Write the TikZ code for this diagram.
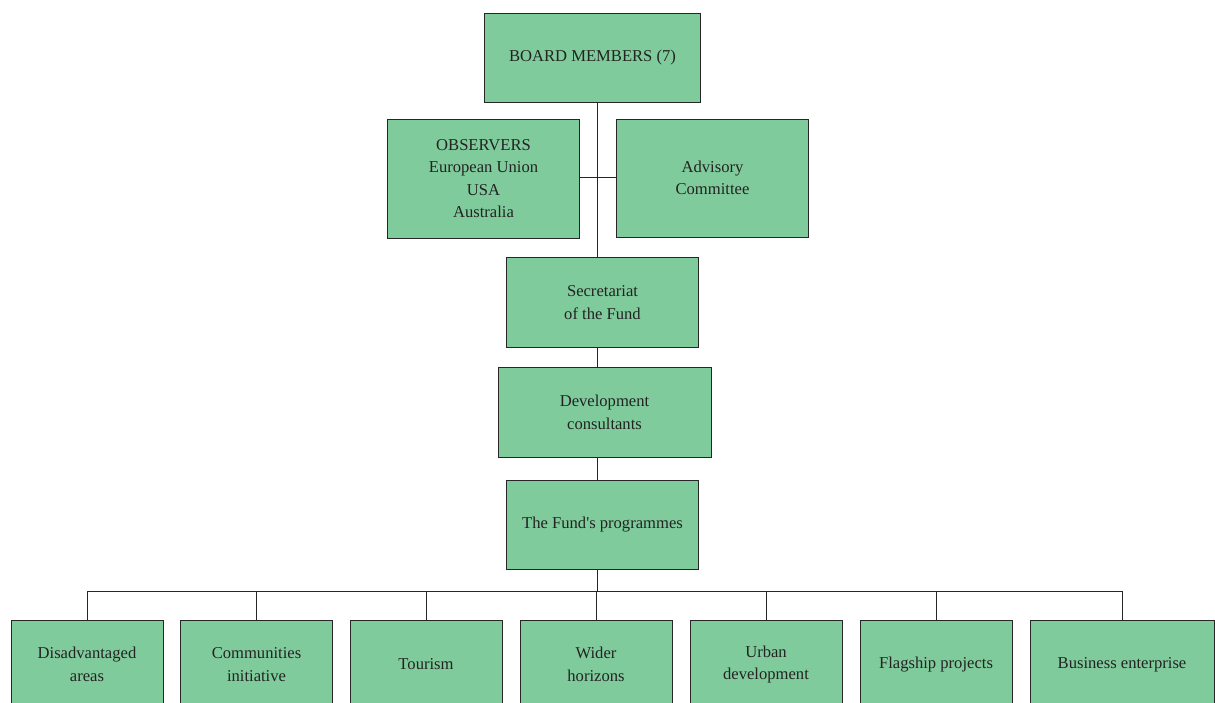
\documentclass[tikz,border=0pt]{standalone}
\usepackage{fontspec}
\setmainfont{Liberation Serif}
\usepackage{tikz}
\usetikzlibrary{positioning}
\definecolor{boxgreen}{RGB}{128,203,155}
\definecolor{txtgray}{RGB}{35,35,35}

\begin{document}
\begin{tikzpicture}[%
  x=0.5pt,
  y=-0.5pt,
  line width=0.5pt,
  box/.style={
    draw=black!85,
    fill=boxgreen,
    text=txtgray,
    align=center,
    inner sep=0pt,
    font=\fontsize{8.3}{11.3}\selectfont},
  lnk/.style={
    draw=black!85,}
  ]
  \useasboundingbox (0,0) rectangle (1215,702);
  \clip (0,0) rectangle (1215,702);
  %% Nodes
  \node[box, minimum width=108pt, minimum height=44.5pt] (BM) at (592.5,57.5) {BOARD MEMBERS (7)};
  \node[box, minimum width=96pt, minimum height=59.5pt] (OBS) at (483.5,178.5) {OBSERVERS\\European Union\\USA\\Australia};
  \node[box, minimum width=96pt, minimum height=59pt] (ADV) at (712.5,178) {Advisory\\Committee};
  \node[box, minimum width=96pt, minimum height=45pt] (SEC) at (602.5,302.5) {Secretariat\\of the Fund};
  \node[box, minimum width=106.5pt, minimum height=45pt] (DEV) at (604.5,412.5) {Development\\consultants};
  \node[box, minimum width=96pt, minimum height=44.5pt] (PROG) at (602.5,524.5) {The Fund\textquotesingle s programmes};
  \coordinate (SP) at (597,0);
  \coordinate (BUS) at (597,591);
  \node[box, minimum width=76pt, minimum height=44.5pt] (P1) at (87,664.5) {Disadvantaged\\areas};
  \node[box, minimum width=76pt, minimum height=44.5pt] (P2) at (256.5,664.5) {Communities\\initiative};
  \node[box, minimum width=76pt, minimum height=44.5pt] (P3) at (426,664.5) {Tourism};
  \node[box, minimum width=76pt, minimum height=44.5pt] (P4) at (596,664.5) {Wider\\horizons};
  \node[box, minimum width=76pt, minimum height=44.5pt] (P5) at (766,664.5) {Urban\\development};
  \node[box, minimum width=76pt, minimum height=44.5pt] (P6) at (936,664.5) {Flagship projects};
  \node[box, minimum width=92pt, minimum height=44.5pt] (P7) at (1122,664.5) {Business enterprise};
  %% Edges
  \draw[lnk] (BM.south -| SP) to (SEC.north -| SP);
  \draw[lnk] (OBS.east |- 0,177) to (ADV.west |- 0,177);
  \draw[lnk] (SEC.south -| SP) to (DEV.north -| SP);
  \draw[lnk] (DEV.south -| SP) to (PROG.north -| SP);
  \draw[lnk] (PROG.south -| SP) to (BUS);
  \draw[lnk] (BUS -| P1.north) to (BUS -| P7.north);
  \draw[lnk] (BUS -| P1.north) to (P1.north);
  \draw[lnk] (BUS -| P2.north) to (P2.north);
  \draw[lnk] (BUS -| P3.north) to (P3.north);
  \draw[lnk] (BUS -| P4.north) to (P4.north);
  \draw[lnk] (BUS -| P5.north) to (P5.north);
  \draw[lnk] (BUS -| P6.north) to (P6.north);
  \draw[lnk] (BUS -| P7.north) to (P7.north);
\end{tikzpicture}
\end{document}
